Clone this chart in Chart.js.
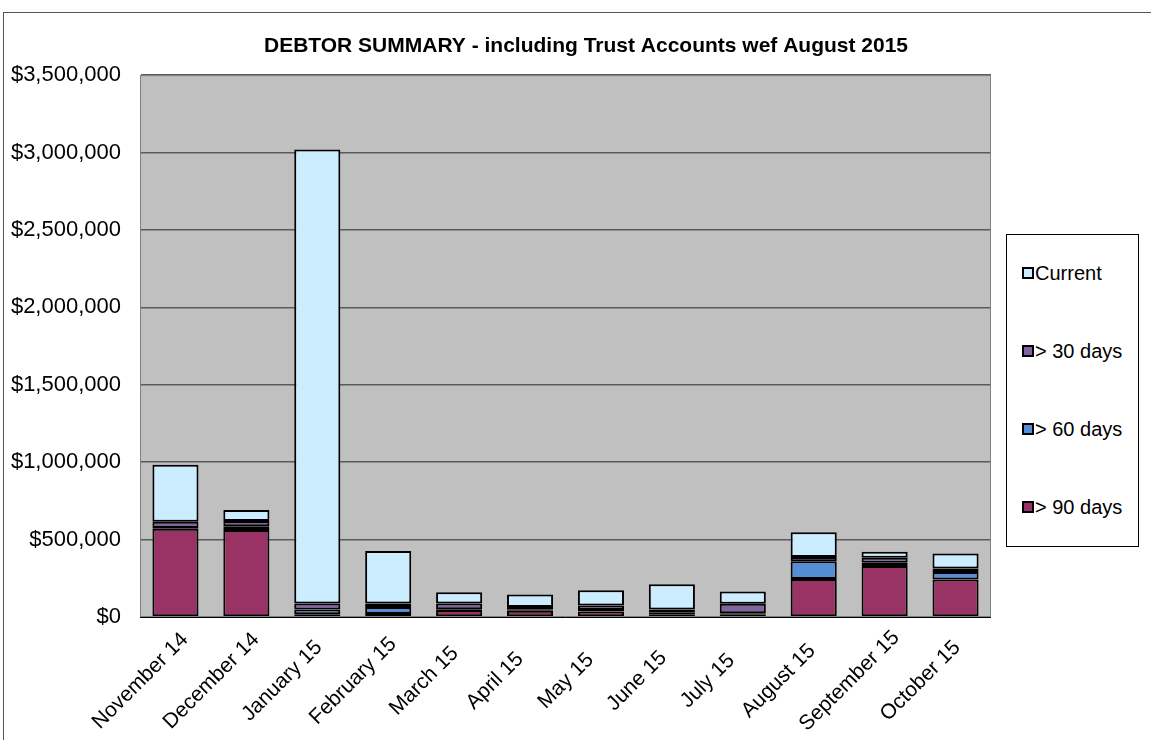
<!DOCTYPE html>
<html>
<head>
<meta charset="utf-8">
<script src="https://cdn.jsdelivr.net/npm/chart.js@4.4.1/dist/chart.umd.min.js"></script>
<style>
  html, body { margin: 0; padding: 0; background: #fff; width: 1151px; height: 740px; overflow: hidden; }
  #frame { position: absolute; left: 3px; top: 12px; width: 1200px; height: 800px; border-left: 1px solid #555; border-top: 1px solid #555; }
  #wrap { position: absolute; left: 0; top: 0; width: 1172px; height: 740px; }
  #legend { position: absolute; left: 1006px; top: 234px; width: 131px; height: 311px; border: 1px solid #000; background: #fff;
            font-family: "Liberation Sans", Arial, sans-serif; font-size: 20px; color: #000; }
  .item { position: absolute; left: 15px; height: 24px; line-height: 24px; white-space: nowrap; }
  .sw { display: inline-block; width: 8px; height: 8px; border: 2px solid #000; vertical-align: middle; margin-right: 1px; position: relative; top: -2px; }
</style>
</head>
<body>
<div id="frame"></div>
<div id="wrap"><canvas id="c" width="1172" height="740"></canvas></div>
<div id="legend"></div>
<script>
const categories = ['November 14','December 14','January 15','February 15','March 15','April 15','May 15','June 15','July 15','August 15','September 15','October 15'];
const over90  = [570000, 562000, 18000, 20000, 45000, 40000, 35000, 15000, 15000, 245000, 330000, 243000];
const over60  = [5000, 25000, 30000, 45000, 5000, 10000, 10000, 15000, 10000, 115000, 20000, 47000];
const over30  = [40000, 33000, 40000, 23000, 38000, 15000, 30000, 18000, 60000, 28000, 32000, 24000];
const current = [368000, 71000, 2932000, 338000, 72000, 80000, 97000, 163000, 80000, 160000, 40000, 97000];
const seriesNames = ['> 90 days', '> 60 days', '> 30 days', 'Current'];
const seriesColors = ['#993366', '#558ED5', '#8064A2', '#CCECFF'];
const titleText = 'DEBTOR SUMMARY - including Trust Accounts wef August 2015';

const FONT = '"Liberation Sans", Arial, sans-serif';

const plotBg = {
  id: 'plotBg',
  beforeDraw(chart) {
    const a = chart.chartArea, ctx = chart.ctx;
    ctx.save();
    ctx.fillStyle = '#C0C0C0';
    ctx.fillRect(a.left, a.top, a.right - a.left, a.bottom - a.top);
    ctx.restore();
  },
  afterDraw(chart) {
    const a = chart.chartArea, ctx = chart.ctx;
    ctx.save();
    ctx.strokeStyle = '#808080';
    ctx.lineWidth = 1;
    ctx.strokeRect(a.left + 0.5, a.top + 0.5, a.right - a.left - 1, a.bottom - a.top - 1);
    ctx.strokeStyle = '#000';
    ctx.beginPath();
    ctx.moveTo(a.left, a.bottom + 0.5);
    ctx.lineTo(a.right, a.bottom + 0.5);
    ctx.stroke();
    // category labels, rotated 45deg and centred like the original
    const xs = chart.scales.x;
    ctx.fillStyle = '#000';
    ctx.font = '21px ' + FONT;
    ctx.textAlign = 'center';
    ctx.textBaseline = 'middle';
    xs.ticks.forEach((t, i) => {
      const px = xs.getPixelForTick(i);
      ctx.save();
      ctx.translate(px - 35, a.bottom + 64);
      ctx.rotate(-Math.PI / 4);
      ctx.fillText(xs.getLabelForValue(t.value), 0, 0);
      ctx.restore();
    });
    ctx.restore();
  }
};

const dataArrays = [over90, over60, over30, current];
const datasets = dataArrays.map((d, i) => ({
  label: seriesNames[i],
  data: d,
  backgroundColor: seriesColors[i],
  borderColor: '#000',
  borderWidth: 2,
  borderSkipped: false,
  categoryPercentage: 1.0,
  barPercentage: 0.65
}));

new Chart(document.getElementById('c'), {
  type: 'bar',
  data: { labels: categories, datasets },
  options: {
    responsive: false,
    animation: false,
    devicePixelRatio: 1,
    layout: { padding: { left: 0, right: 0, top: 0, bottom: 0 } },
    plugins: {
      legend: { display: false },
      tooltip: { enabled: false },
      title: {
        display: true,
        text: titleText,
        color: '#000',
        font: { family: FONT, size: 21, weight: 'bold' },
        padding: { top: 34, bottom: 16 }
      }
    },
    scales: {
      x: {
        stacked: true,
        grid: { display: false, drawTicks: false },
        border: { display: false },
        ticks: { display: false, autoSkip: false },
        afterFit(s) { s.height = 123; }
      },
      y: {
        stacked: true,
        min: 0, max: 3500000,
        grid: { color: '#5a5a5a', lineWidth: 1.5, drawTicks: false },
        border: { display: true, color: '#808080' },
        ticks: {
          stepSize: 500000,
          color: '#000',
          font: { family: FONT, size: 22 },
          padding: 19,
          callback: v => '$' + Number(v).toLocaleString('en-US')
        },
        afterFit(s) { s.width = 140; }
      },
      yRight: {
        position: 'right',
        display: true,
        grid: { display: false, drawTicks: false },
        border: { display: false },
        ticks: { display: false },
        afterFit(s) { s.width = 181; }
      }
    }
  },
  plugins: [plotBg]
});

// HTML legend (top-to-bottom order as in the reference)
const legend = document.getElementById('legend');
const order = [3, 2, 1, 0];
const tops = [26, 104, 182, 260];
order.forEach((idx, k) => {
  const it = document.createElement('div');
  it.className = 'item';
  it.style.top = tops[k] + 'px';
  const sw = document.createElement('span');
  sw.className = 'sw';
  sw.style.background = seriesColors[idx];
  it.appendChild(sw);
  it.appendChild(document.createTextNode(seriesNames[idx]));
  legend.appendChild(it);
});
</script>
</body>
</html>
